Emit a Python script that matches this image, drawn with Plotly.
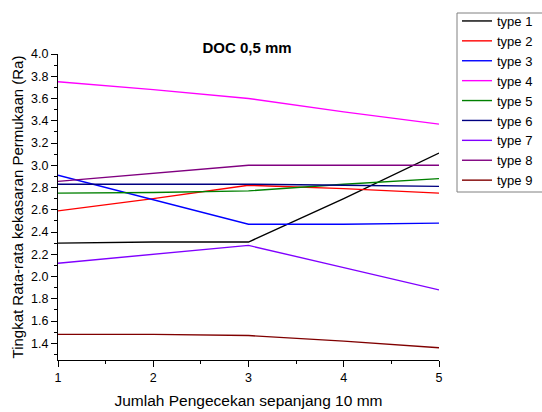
import plotly.graph_objects as go

x_vals = [1, 2, 3, 4, 5]
series_names = ["type 1", "type 2", "type 3", "type 4", "type 5", "type 6", "type 7", "type 8", "type 9"]
type1 = [2.30, 2.31, 2.31, 2.70, 3.11]
type2 = [2.59, 2.70, 2.82, 2.79, 2.75]
type3 = [2.91, 2.69, 2.47, 2.47, 2.48]
type4 = [3.75, 3.68, 3.60, 3.48, 3.37]
type5 = [2.75, 2.755, 2.77, 2.83, 2.88]
type6 = [2.83, 2.83, 2.83, 2.82, 2.81]
type7 = [2.12, 2.20, 2.28, 2.08, 1.88]
type8 = [2.855, 2.93, 3.00, 3.00, 3.00]
type9 = [1.48, 1.48, 1.47, 1.42, 1.36]
series_values = [type1, type2, type3, type4, type5, type6, type7, type8, type9]
colors = ["#000000", "#FF0000", "#0000FF", "#FF00FF", "#008000", "#000080", "#8000FF", "#800080", "#800000"]

title_text = "DOC 0,5 mm"
x_title = "Jumlah Pengecekan sepanjang 10 mm"
y_title = "Tingkat Rata-rata kekasaran Permukaan (Ra)"
x_ticks = [1, 2, 3, 4, 5]
x_minor = [1.5, 2.5, 3.5, 4.5]
y_ticks = [1.4, 1.6, 1.8, 2.0, 2.2, 2.4, 2.6, 2.8, 3.0, 3.2, 3.4, 3.6, 3.8, 4.0]
y_ticktext = ["1.4", "1.6", "1.8", "2.0", "2.2", "2.4", "2.6", "2.8", "3.0", "3.2", "3.4", "3.6", "3.8", "4.0"]
y_minor = [1.3, 1.5, 1.7, 1.9, 2.1, 2.3, 2.5, 2.7, 2.9, 3.1, 3.3, 3.5, 3.7, 3.9]

fig = go.Figure()
for name, vals, c in zip(series_names, series_values, colors):
    fig.add_trace(go.Scatter(x=x_vals, y=vals, mode="lines", name=name,
                             line=dict(color=c, width=1.4)))

W, H = 542, 412
L, R, T, B = 58, 103, 54, 52
pw, ph = W - L - R, H - T - B

def px_x(p):
    return (p - L) / pw

def px_y(p):
    return (H - B - p) / ph

font_family = "Liberation Sans, Arial, sans-serif"
fig.update_layout(
    width=W, height=H,
    paper_bgcolor="white", plot_bgcolor="white",
    margin=dict(l=L, r=R, t=T, b=B, autoexpand=False),
    font=dict(family=font_family, color="black", size=12),
    title=dict(text="<b>" + title_text + "</b>", x=247 / W, xanchor="center",
               y=1 - 47.5 / H, yanchor="middle", font=dict(size=15)),
    showlegend=True,
    legend=dict(x=px_x(457), xanchor="left", y=px_y(6), yanchor="top",
                borderwidth=0, bgcolor="rgba(0,0,0,0)",
                font=dict(size=13), tracegroupgap=0, itemwidth=30),
    shapes=[dict(type="rect", xref="paper", yref="paper",
                 x0=px_x(457), x1=px_x(560), y0=px_y(192), y1=px_y(13),
                 line=dict(color="#808080", width=1), fillcolor="white", layer="below")],
    xaxis=dict(range=[1, 5], showgrid=False, zeroline=False, automargin=False,
               showline=True, linecolor="black", linewidth=1.3,
               ticks="outside", ticklen=6, tickwidth=1, tickcolor="black",
               tickmode="array", tickvals=x_ticks,
               minor=dict(ticks="outside", ticklen=3, tickvals=x_minor, tickcolor="black"),
               tickfont=dict(size=12.5),
               title=dict(text=x_title, font=dict(size=15.5), standoff=10)),
    yaxis=dict(range=[1.25, 4.0], showgrid=False, zeroline=False, automargin=False,
               showline=True, linecolor="black", linewidth=1.3,
               ticks="outside", ticklen=6, tickwidth=1, tickcolor="black",
               tickmode="array", tickvals=y_ticks, ticktext=y_ticktext,
               minor=dict(ticks="outside", ticklen=3, tickvals=y_minor, tickcolor="black"),
               tickfont=dict(size=12.5),
               title=dict(text=y_title, font=dict(size=15), standoff=3)),
)

fig.write_html("out.html", config={"displayModeBar": False},
               post_script="document.body.style.margin='0';document.body.style.overflow='hidden';")
